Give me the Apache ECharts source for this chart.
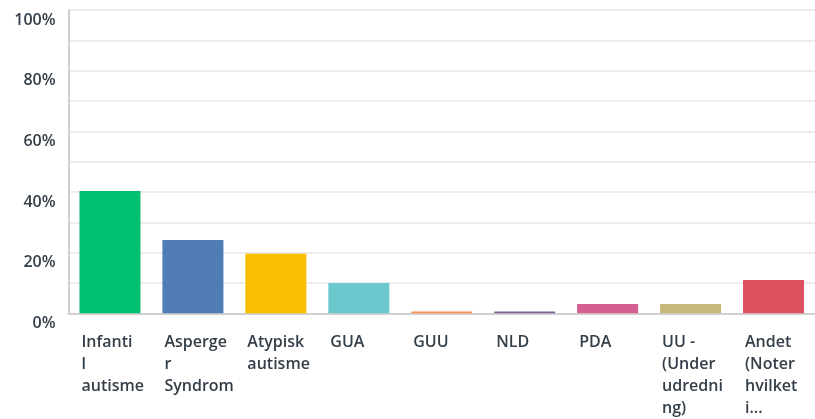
<!DOCTYPE html>
<html>
<head>
<meta charset="utf-8">
<script src="https://cdn.jsdelivr.net/npm/echarts@6/dist/echarts.min.js"></script>
<style>
html,body{margin:0;padding:0;background:#fff;overflow:hidden;}
#chart{width:815px;height:419px;}
</style>
</head>
<body>
<div id="chart"></div>
<script>
const categories = ["Infantil autisme","Asperger Syndrom","Atypisk autisme","GUA","GUU","NLD","PDA","UU - (Under udredning)","Andet (Noter hvilket i..."];
const tickLabels = [
  ["Infanti","l","autisme"],
  ["Asperge","r","Syndrom"],
  ["Atypisk","autisme"],
  ["GUA"],
  ["GUU"],
  ["NLD"],
  ["PDA"],
  ["UU -","(Under","udredni","ng)"],
  ["Andet","(Noter","hvilket","i..."]
];
const values = [40.3, 24.2, 19.6, 10.0, 0.6, 0.6, 3.1, 3.1, 11.0];
const colors = ["#00BF6F","#507CB6","#F9BE00","#6BC8CD","#FF8B4F","#7D5D91","#D25F90","#C7B879","#DC5060"];
const yTicks = [0, 20, 40, 60, 80, 100];

const chart = echarts.init(document.getElementById('chart'), null, {renderer:'canvas'});
chart.setOption({
  animation:false,
  grid:{left:68.5, top:10, bottom:105.7, width:756, containLabel:false},
  xAxis:{
    type:'category',
    data:categories,
    axisLine:{show:true, lineStyle:{color:'#d0d0d0', width:2}},
    axisTick:{show:false},
    axisLabel:{
      interval:0,
      margin:18,
      formatter:function(v, i){
        return tickLabels[i].map(function(s){return '{a|'+s+'}';}).join('\n');
      },
      rich:{a:{width:57, align:'left', fontSize:16, lineHeight:22, fontWeight:600, color:'#333E48', fontFamily:'"Open Sans", sans-serif'}}
    }
  },
  yAxis:{
    type:'value',
    min:0, max:100, interval:10,
    axisLine:{show:true, lineStyle:{color:'#d0d0d0', width:2}},
    axisTick:{show:false},
    splitLine:{show:true, lineStyle:{color:'#ededed', width:2}},
    axisLabel:{
      margin:13,
      fontSize:16,
      lineHeight:16,
      fontWeight:600,
      color:'#333E48',
      verticalAlign:'top',
      padding:[2,0,0,0],
      fontFamily:'"Open Sans", sans-serif',
      formatter:function(v){ return yTicks.indexOf(v) >= 0 ? v + '%' : ''; }
    }
  },
  series:[{
    type:'bar',
    barWidth:61,
    data:values.map(function(v,i){return {value:v, itemStyle:{color:colors[i]}};})
  }]
});
</script>
</body>
</html>
